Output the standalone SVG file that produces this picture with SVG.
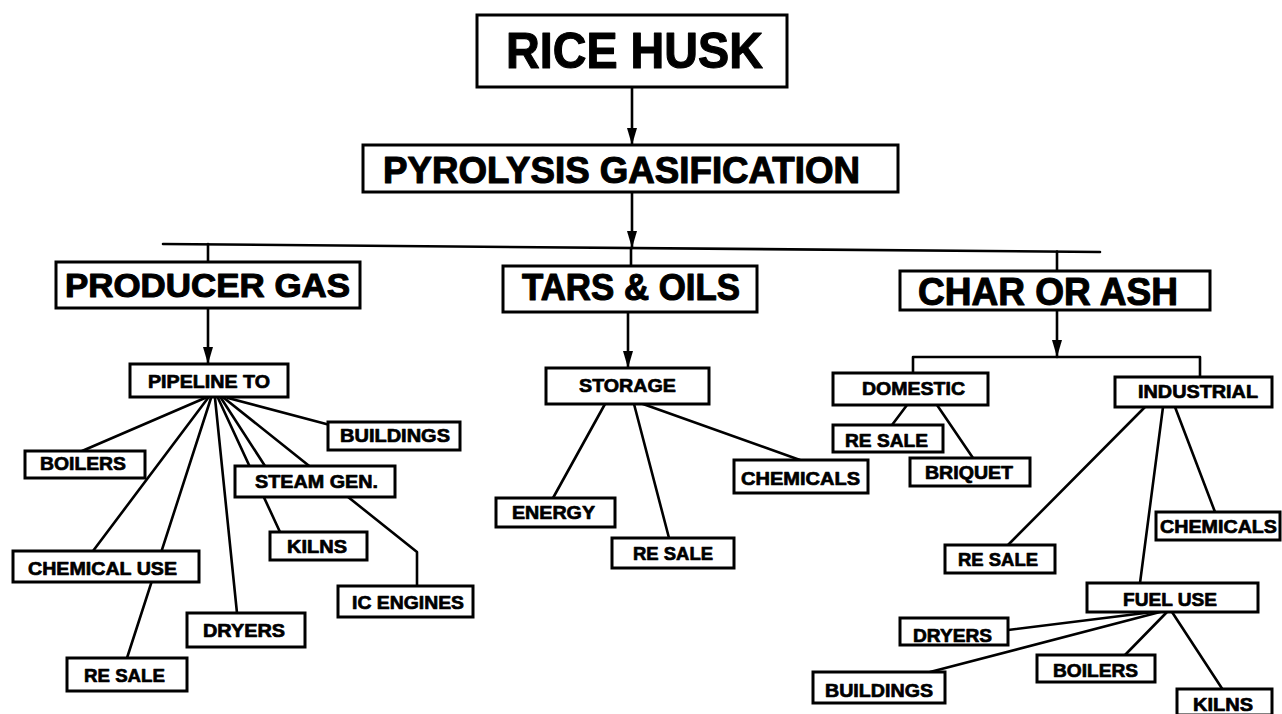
<svg xmlns="http://www.w3.org/2000/svg" width="1282" height="714" viewBox="0 0 1282 714">
<style>
.b{fill:#fff;stroke:#000;stroke-width:3}
.c{fill:none;stroke:#000;stroke-width:2.6;stroke-linecap:round;stroke-linejoin:round}
.t{font-family:"Liberation Sans",Arial,sans-serif;font-weight:700;fill:#000;stroke:#000;stroke-width:1.1;stroke-linejoin:round}
.s{font-size:19px;stroke-width:0.7}
</style>
<defs>
<marker id="ah" viewBox="0 -6 18 12" refX="17" refY="0" markerWidth="18" markerHeight="12" markerUnits="userSpaceOnUse" orient="auto">
<path d="M0,-5 L17,0 L0,5 z" fill="#000"/>
</marker>
</defs>
<rect width="1282" height="714" fill="#fff"/>
<g id="connectors">
<line class="c" x1="632" y1="87" x2="632" y2="145" marker-end="url(#ah)"/>
<line class="c" x1="632" y1="192" x2="632" y2="248" marker-end="url(#ah)"/>
<line class="c" x1="163" y1="244" x2="1100" y2="252"/>
<line class="c" x1="208" y1="244" x2="208" y2="263"/>
<line class="c" x1="631" y1="248" x2="631" y2="266"/>
<line class="c" x1="1057" y1="251.5" x2="1057" y2="272"/>
<line class="c" x1="208" y1="308" x2="208" y2="364" marker-end="url(#ah)"/>
<line class="c" x1="205" y1="398" x2="82" y2="451"/>
<line class="c" x1="208" y1="398" x2="93" y2="551"/>
<line class="c" x1="211" y1="398" x2="127" y2="658"/>
<line class="c" x1="215" y1="398" x2="237" y2="613"/>
<line class="c" x1="218" y1="398" x2="280" y2="532"/>
<line class="c" x1="221" y1="398" x2="265" y2="466"/>
<polyline class="c" points="224,398 417,552 417,586"/>
<line class="c" x1="228" y1="398" x2="330" y2="425"/>
<line class="c" x1="628" y1="312" x2="628" y2="368" marker-end="url(#ah)"/>
<line class="c" x1="605" y1="404" x2="553" y2="498"/>
<line class="c" x1="634" y1="404" x2="669" y2="538"/>
<line class="c" x1="643" y1="404" x2="800" y2="460"/>
<line class="c" x1="1057" y1="310" x2="1057" y2="357" marker-end="url(#ah)"/>
<polyline class="c" points="913,373 913,357 1200,357 1200,377"/>
<line class="c" x1="907" y1="405" x2="892" y2="425"/>
<line class="c" x1="937" y1="405" x2="973" y2="458"/>
<line class="c" x1="1145" y1="407" x2="1008" y2="545"/>
<line class="c" x1="1163" y1="407" x2="1140" y2="583"/>
<line class="c" x1="1175" y1="407" x2="1215" y2="512"/>
<line class="c" x1="1153" y1="612" x2="1008" y2="630"/>
<line class="c" x1="1160" y1="612" x2="930" y2="672"/>
<line class="c" x1="1167" y1="612" x2="1125" y2="655"/>
<line class="c" x1="1172" y1="612" x2="1223" y2="690"/>
</g>
<g id="rice-husk"><rect class="b" x="477" y="15" width="310" height="72"/><text class="t" x="506" y="68" font-size="50" textLength="257" lengthAdjust="spacingAndGlyphs">RICE HUSK</text></g>
<g id="pyrolysis"><rect class="b" x="363" y="145" width="535" height="47"/><text class="t" x="383" y="183" font-size="37" textLength="477" lengthAdjust="spacingAndGlyphs">PYROLYSIS GASIFICATION</text></g>
<g id="producer-gas"><rect class="b" x="56" y="262" width="304" height="46"/><text class="t" x="65" y="297" font-size="34" textLength="285" lengthAdjust="spacingAndGlyphs">PRODUCER GAS</text></g>
<g id="tars-oils"><rect class="b" x="503" y="266" width="254" height="46"/><text class="t" x="522" y="300" font-size="37" textLength="218" lengthAdjust="spacingAndGlyphs">TARS &amp; OILS</text></g>
<g id="char-ash"><rect class="b" x="900" y="271" width="310" height="39"/><text class="t" x="918" y="305" font-size="38" textLength="260" lengthAdjust="spacingAndGlyphs">CHAR OR ASH</text></g>
<g id="pipeline"><rect class="b" x="130" y="364" width="158" height="33"/><text class="t s" x="148" y="388" textLength="122" lengthAdjust="spacingAndGlyphs">PIPELINE TO</text></g>
<g id="buildings-l"><rect class="b" x="328" y="422" width="132" height="28"/><text class="t s" x="340" y="442" textLength="110" lengthAdjust="spacingAndGlyphs">BUILDINGS</text></g>
<g id="boilers-l"><rect class="b" x="25" y="451" width="120" height="27"/><text class="t s" x="40" y="470" textLength="86" lengthAdjust="spacingAndGlyphs">BOILERS</text></g>
<g id="steam-gen"><rect class="b" x="235" y="466" width="160" height="31"/><text class="t s" x="255" y="488" textLength="123" lengthAdjust="spacingAndGlyphs">STEAM GEN.</text></g>
<g id="kilns-l"><rect class="b" x="270" y="532" width="97" height="28"/><text class="t s" x="287" y="553" textLength="60" lengthAdjust="spacingAndGlyphs">KILNS</text></g>
<g id="chemical-use"><rect class="b" x="13" y="551" width="186" height="31"/><text class="t s" x="28" y="575" textLength="149" lengthAdjust="spacingAndGlyphs">CHEMICAL USE</text></g>
<g id="ic-engines"><rect class="b" x="338" y="586" width="135" height="31"/><text class="t s" x="352" y="609" textLength="112" lengthAdjust="spacingAndGlyphs">IC ENGINES</text></g>
<g id="dryers-l"><rect class="b" x="187" y="613" width="118" height="34"/><text class="t s" x="203" y="637" textLength="82" lengthAdjust="spacingAndGlyphs">DRYERS</text></g>
<g id="resale-l"><rect class="b" x="67" y="658" width="120" height="33"/><text class="t s" x="84" y="682" textLength="81" lengthAdjust="spacingAndGlyphs">RE SALE</text></g>
<g id="storage"><rect class="b" x="546" y="368" width="163" height="36"/><text class="t s" x="579" y="392" textLength="97" lengthAdjust="spacingAndGlyphs">STORAGE</text></g>
<g id="energy"><rect class="b" x="496" y="498" width="119" height="29"/><text class="t s" x="512" y="519" textLength="83" lengthAdjust="spacingAndGlyphs">ENERGY</text></g>
<g id="resale-m"><rect class="b" x="612" y="538" width="122" height="30"/><text class="t s" x="633" y="560" textLength="80" lengthAdjust="spacingAndGlyphs">RE SALE</text></g>
<g id="chemicals-m"><rect class="b" x="734" y="460" width="134" height="33"/><text class="t s" x="741" y="485" textLength="119" lengthAdjust="spacingAndGlyphs">CHEMICALS</text></g>
<g id="domestic"><rect class="b" x="833" y="373" width="155" height="32"/><text class="t s" x="862" y="395" textLength="103" lengthAdjust="spacingAndGlyphs">DOMESTIC</text></g>
<g id="industrial"><rect class="b" x="1115" y="377" width="157" height="30"/><text class="t s" x="1138" y="398" textLength="120" lengthAdjust="spacingAndGlyphs">INDUSTRIAL</text></g>
<g id="resale-d"><rect class="b" x="833" y="425" width="110" height="27"/><text class="t s" x="845" y="447" textLength="83" lengthAdjust="spacingAndGlyphs">RE SALE</text></g>
<g id="briquet"><rect class="b" x="910" y="458" width="120" height="28"/><text class="t s" x="925" y="479" textLength="88" lengthAdjust="spacingAndGlyphs">BRIQUET</text></g>
<g id="chemicals-r"><rect class="b" x="1156" y="512" width="124" height="28"/><text class="t s" x="1160" y="533" textLength="117" lengthAdjust="spacingAndGlyphs">CHEMICALS</text></g>
<g id="resale-i"><rect class="b" x="945" y="545" width="110" height="28"/><text class="t s" x="958" y="566" textLength="80" lengthAdjust="spacingAndGlyphs">RE SALE</text></g>
<g id="fuel-use"><rect class="b" x="1087" y="583" width="171" height="29"/><text class="t s" x="1123" y="606" textLength="94" lengthAdjust="spacingAndGlyphs">FUEL USE</text></g>
<g id="dryers-r"><rect class="b" x="900" y="618" width="108" height="27"/><text class="t s" x="913" y="642" textLength="79" lengthAdjust="spacingAndGlyphs">DRYERS</text></g>
<g id="buildings-r"><rect class="b" x="813" y="672" width="132" height="31"/><text class="t s" x="825" y="697" textLength="108" lengthAdjust="spacingAndGlyphs">BUILDINGS</text></g>
<g id="boilers-r"><rect class="b" x="1037" y="655" width="118" height="27"/><text class="t s" x="1053" y="677" textLength="85" lengthAdjust="spacingAndGlyphs">BOILERS</text></g>
<g id="kilns-r"><rect class="b" x="1177" y="689" width="95" height="26"/><text class="t s" x="1193" y="711" textLength="60" lengthAdjust="spacingAndGlyphs">KILNS</text></g>
</svg>
